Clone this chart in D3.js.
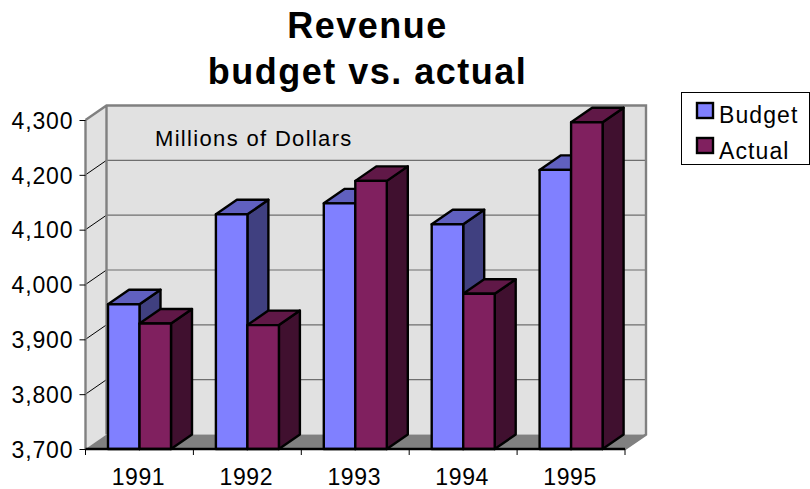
<!DOCTYPE html>
<html><head><meta charset="utf-8">
<script src="https://cdn.jsdelivr.net/npm/d3@7"></script>
<style>
html,body{margin:0;padding:0;background:#fff}
svg{display:block}
text{font-family:"Liberation Sans",Arial,sans-serif;fill:#000}
</style></head><body>
<svg id="c" width="810" height="489"></svg>
<script>
const categories=["1991","1992","1993","1994","1995"];
const seriesNames=["Budget","Actual"];
const budget=[3964,4128,4148,4110,4209];
const actual=[3929,3926,4189,3983,4296];
const tickValues=[3700,3800,3900,4000,4100,4200,4300];
const titleLines=["Revenue","budget vs. actual"];
const note="Millions of Dollars";
const colors={Budget:"#8080ff",Actual:"#80205f"};
const sides={Budget:"#404080",Actual:"#40102f"};
const tops={Budget:"#6060bf",Actual:"#601847"};

const svg=d3.select("#c");
const leftX=85.5,rightX=625,bottomY=449,topY=120,dx=21,dy=-14.5;
const y=d3.scaleLinear().domain([3700,4300]).range([bottomY,topY]);
const x=d3.scaleBand().domain(categories).range([leftX,rightX]);
const inner=d3.scaleBand().domain(seriesNames).range([22.5,85.5]);

const wall="#e1e1e1",grey="#808080";
const pts=p=>p.map(a=>a.join(",")).join(" ");
svg.append("polygon").attr("points",pts([[leftX,bottomY],[leftX+dx,bottomY+dy],[leftX+dx,topY+dy],[leftX,topY]])).attr("fill",wall);
svg.append("rect").attr("x",leftX+dx).attr("y",topY+dy).attr("width",rightX-leftX).attr("height",bottomY-topY).attr("fill",wall);
svg.append("polygon").attr("points",pts([[leftX,bottomY],[rightX,bottomY],[rightX+dx,bottomY+dy],[leftX+dx,bottomY+dy]])).attr("fill",grey);

// gridlines
tickValues.slice(1,-1).forEach(v=>{
  svg.append("path").attr("fill","none").attr("stroke","#000").attr("stroke-width",1)
    .attr("d",`M${leftX},${y(v)}L${leftX+dx},${y(v)+dy}`);
  svg.append("line").attr("x1",leftX+dx).attr("x2",rightX+dx).attr("y1",y(v)+dy).attr("y2",y(v)+dy)
    .attr("stroke","#6e6e6e").attr("stroke-width",1.2);
});
// wall edges
svg.append("path").attr("fill","none").attr("stroke",grey).attr("stroke-width",2.4)
  .attr("d",`M${leftX},${topY}L${leftX+dx},${topY+dy}H${rightX+dx}V${bottomY+dy}L${rightX},${bottomY}M${leftX+dx},${topY+dy}V${bottomY+dy}`);

svg.append("text").attr("x",155).attr("y",146).attr("font-size",22).style("letter-spacing","1.33px").text(note);

// bars
const rows=categories.map((c,i)=>({c,vals:[["Budget",budget[i]],["Actual",actual[i]]]}));
rows.forEach(r=>{
  r.vals.forEach(([s,v])=>{
    const x0=x(r.c)+inner(s),w=inner.bandwidth(),y0=y(v),b=y(3700);
    const g=svg.append("g").attr("stroke","#000").attr("stroke-width",2.4).attr("stroke-linejoin","round");
    g.append("polygon").attr("fill",sides[s]).attr("points",pts([[x0+w,y0],[x0+w+dx,y0+dy],[x0+w+dx,b+dy],[x0+w,b]]));
    g.append("polygon").attr("fill",tops[s]).attr("points",pts([[x0,y0],[x0+dx,y0+dy],[x0+w+dx,y0+dy],[x0+w,y0]]));
    g.append("rect").attr("fill",colors[s]).attr("x",x0).attr("y",y0).attr("width",w).attr("height",b-y0);
  });
});

// axes
const fmt=d3.format(",");
const ay=svg.append("g").attr("transform",`translate(${leftX},0)`)
  .call(d3.axisLeft(y).tickValues(tickValues).tickFormat(fmt).tickSize(6).tickPadding(6));
ay.select(".domain").attr("stroke",grey).attr("stroke-width",2.4).attr("d",`M0,${topY}V${bottomY}`);
ay.selectAll("line").attr("stroke","#000");
ay.selectAll("text").attr("font-size",23).style("font-family","Liberation Sans").style("letter-spacing","0.9px").attr("dy","0.36em");

const ax=svg.append("g").attr("transform",`translate(0,${bottomY})`)
  .call(d3.axisBottom(x).tickSize(0).tickPadding(20));
ax.select(".domain").attr("stroke","#000").attr("stroke-width",2.4).attr("d",`M${leftX},0H${rightX}`);
ax.selectAll("text").attr("font-size",23).style("font-family","Liberation Sans").style("letter-spacing","0.6px").attr("dy","0.71em").attr("dx",-1);
const edges=categories.map(c=>x(c)).concat([rightX]);
svg.selectAll("line.edge").data(edges).join("line").attr("class","edge")
  .attr("x1",d=>d).attr("x2",d=>d).attr("y1",bottomY).attr("y2",bottomY+6).attr("stroke","#000");

// title
svg.append("text").attr("text-anchor","middle").selectAll("tspan").data(titleLines).join("tspan")
  .attr("x",367.5).attr("y",(d,i)=>38+i*46).attr("font-size",36).attr("font-weight","bold").style("letter-spacing","1.5px").text(d=>d);

// legend
svg.append("rect").attr("x",681.5).attr("y",92.5).attr("width",128).attr("height",72).attr("fill","#fff").attr("stroke","#000");
seriesNames.forEach((s,i)=>{
  const yy=[103,138][i];
  svg.append("rect").attr("x",697).attr("y",yy).attr("width",16).attr("height",15).attr("fill",colors[s]).attr("stroke","#000").attr("stroke-width",2.4);
  svg.append("text").attr("x",719).attr("y",[123,159][i]).attr("font-size",23).style("letter-spacing","1.1px").text(s);
});
</script>
</body></html>
